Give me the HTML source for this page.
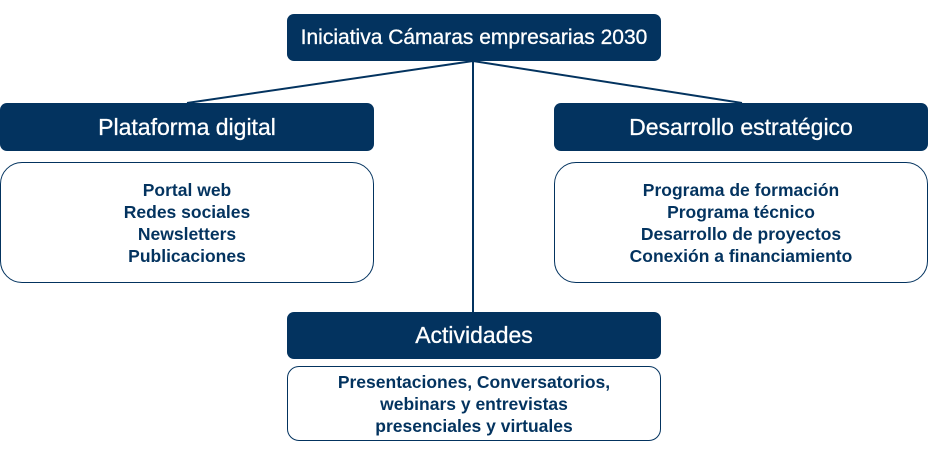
<!DOCTYPE html>
<html><head><meta charset="utf-8"><style>
body{margin:0;width:928px;height:460px;background:#fff;position:relative;overflow:hidden;font-family:"Liberation Sans",sans-serif}
.h{position:absolute;background:#03335f;color:#fff;border-radius:7px;display:flex;align-items:center;justify-content:center;font-size:23px;-webkit-text-stroke:0.3px #fff}
.c{position:absolute;border:1.3px solid #03335f;box-sizing:border-box;color:#03335f;display:flex;align-items:center;justify-content:center;text-align:center;font-size:17.5px;font-weight:bold;line-height:22px}
svg{position:absolute;left:0;top:0}
</style></head><body>
<svg width="928" height="460"><g stroke="#03335f" stroke-width="2" fill="none"><line x1="473" y1="61" x2="187" y2="103"/><line x1="473" y1="61" x2="473" y2="312"/><line x1="473" y1="61" x2="742" y2="103"/></g></svg>
<div class="h" style="left:287px;top:14px;width:374px;height:47px;font-size:21px">Iniciativa Cámaras empresarias 2030</div>
<div class="h" style="left:0;top:103px;width:374px;height:48px">Plataforma digital</div>
<div class="h" style="left:554px;top:103px;width:374px;height:48px">Desarrollo estratégico</div>
<div class="h" style="left:287px;top:312px;width:374px;height:47px">Actividades</div>
<div class="c" style="left:0;top:162px;width:374px;height:121px;border-radius:22px">Portal web<br>Redes sociales<br>Newsletters<br>Publicaciones</div>
<div class="c" style="left:554px;top:162px;width:374px;height:121px;border-radius:22px">Programa de formación<br>Programa técnico<br>Desarrollo de proyectos<br>Conexión a financiamiento</div>
<div class="c" style="left:287px;top:366px;width:374px;height:75px;border-radius:12px">Presentaciones, Conversatorios,<br>webinars y entrevistas<br>presenciales y virtuales</div>
</body></html>
